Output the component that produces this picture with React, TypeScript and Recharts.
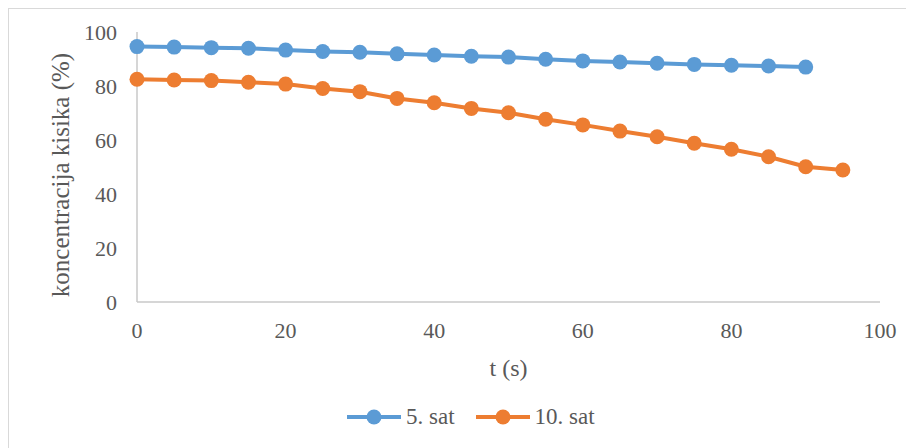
import { LineChart, Line, XAxis, YAxis, Legend } from "recharts";

// vrijeme (s)
const time5 = [0, 5, 10, 15, 20, 25, 30, 35, 40, 45, 50, 55, 60, 65, 70, 75, 80, 85, 90];
const time10 = [0, 5, 10, 15, 20, 25, 30, 35, 40, 45, 50, 55, 60, 65, 70, 75, 80, 85, 90, 95];

// koncentracija kisika (%)
const sat5 = [94.6, 94.4, 94.2, 94.0, 93.3, 92.8, 92.5, 91.9, 91.5, 91.0, 90.7, 89.9, 89.3, 88.9, 88.4, 88.0, 87.7, 87.4, 87.0];
const sat10 = [82.5, 82.2, 82.0, 81.4, 80.7, 79.1, 77.9, 75.4, 73.8, 71.7, 70.1, 67.7, 65.6, 63.3, 61.2, 58.8, 56.6, 53.8, 50.1, 48.9];

const seriesNames = ["5. sat", "10. sat"];
const xTicks = [0, 20, 40, 60, 80, 100];
const yTicks = [0, 20, 40, 60, 80, 100];

const data5 = time5.map((t, i) => ({ t, v: sat5[i] }));
const data10 = time10.map((t, i) => ({ t, v: sat10[i] }));

const FONT = "Liberation Serif";
const TEXT = "#595959";
const AXIS = "#c9c9c9";

const LegendContent = (props: any) => {
  const items = [...(props.payload || [])].sort(
    (a: any, b: any) => seriesNames.indexOf(a.value) - seriesNames.indexOf(b.value)
  );
  return (
    <div style={{ display: "flex", alignItems: "center", fontFamily: FONT, fontSize: 23, color: TEXT }}>
      {items.map((it: any) => (
        <div key={it.value} style={{ display: "flex", alignItems: "center", marginRight: 21 }}>
          <svg width={54} height={18} style={{ marginRight: 5 }}>
            <line x1={0} y1={9} x2={54} y2={9} stroke={it.color} strokeWidth={4} />
            <circle cx={27} cy={9} r={7.5} fill={it.color} />
          </svg>
          <span>{it.value}</span>
        </div>
      ))}
    </div>
  );
};

export default function App() {
  return (
    <div
      style={{
        width: 906,
        height: 440,
        borderLeft: "1px solid #d9d9d9",
        borderTop: "1px solid #d9d9d9",
        boxSizing: "border-box",
        background: "#fff",
        fontFamily: FONT,
      }}
    >
      <LineChart width={905} height={439} margin={{ top: 23, right: 34, bottom: 0, left: 0 }}>
        <XAxis
          type="number"
          dataKey="t"
          domain={[0, 100]}
          ticks={xTicks}
          allowDuplicatedCategory={false}
          height={146}
          stroke={AXIS}
          strokeWidth={1.5}
          tickLine={false}
          tickSize={0}
          tickMargin={20}
          tick={{ fill: TEXT, fontSize: 22, fontFamily: FONT }}
          label={(p: any) => (
            <text
              x={p.viewBox.x + p.viewBox.width / 2}
              y={p.viewBox.y + 66}
              textAnchor="middle"
              dominantBaseline="central"
              fill={TEXT}
              fontSize={24}
              fontFamily={FONT}
            >
              t (s)
            </text>
          )}
        />
        <YAxis
          type="number"
          domain={[0, 100]}
          ticks={yTicks}
          width={128}
          stroke={AXIS}
          strokeWidth={1.5}
          tickLine={false}
          tickSize={0}
          tickMargin={20}
          tick={{ fill: TEXT, fontSize: 22, fontFamily: FONT }}
          label={(p: any) => {
            const cx = p.viewBox.x + 51;
            const cy = p.viewBox.y + p.viewBox.height / 2 + 8;
            return (
              <text
                x={cx}
                y={cy}
                transform={`rotate(-90 ${cx} ${cy})`}
                textAnchor="middle"
                dominantBaseline="central"
                fill={TEXT}
                fontSize={25}
                fontFamily={FONT}
              >
                koncentracija kisika (%)
              </text>
            );
          }}
        />
        <Legend
          verticalAlign="middle"
          content={LegendContent}
          wrapperStyle={{ top: 395, left: 338, width: "auto", height: 24 }}
        />
        <Line
          data={data5}
          dataKey="v"
          name="5. sat"
          type="linear"
          stroke="#5b9bd5"
          strokeWidth={4}
          dot={{ r: 7.5, fill: "#5b9bd5", stroke: "#5b9bd5", strokeWidth: 0 }}
          activeDot={false}
          isAnimationActive={false}
        />
        <Line
          data={data10}
          dataKey="v"
          name="10. sat"
          type="linear"
          stroke="#ed7d31"
          strokeWidth={4}
          dot={{ r: 7.5, fill: "#ed7d31", stroke: "#ed7d31", strokeWidth: 0 }}
          activeDot={false}
          isAnimationActive={false}
        />
      </LineChart>
    </div>
  );
}
